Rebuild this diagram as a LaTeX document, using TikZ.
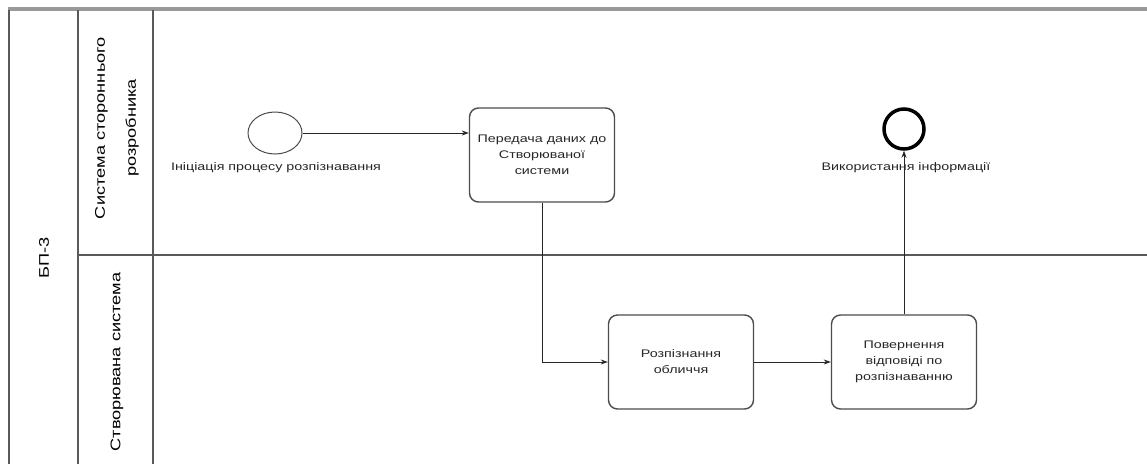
\documentclass[tikz,border=0pt]{standalone}
\usepackage{fontspec}
\setmainfont{Liberation Sans}
\newfontfamily\widesans[FakeStretch=1.3]{Liberation Sans}
\usetikzlibrary{arrows.meta,shapes.geometric}
\begin{document}
\begin{tikzpicture}[x=1pt,y=-1pt,
  poolline/.style={draw=black!65,line width=1.3pt},
  task/.style={draw=black!70,line width=1.4pt,rounded corners=9pt,
    minimum width=145pt,minimum height=94pt,align=center,
    font=\widesans\fontsize{11}{16}\selectfont,text=black!85,inner sep=2pt},
  startev/.style={draw=black!70,line width=1pt,ellipse,minimum width=54pt,minimum height=42pt,inner sep=0pt},
  endev/.style={draw=black,line width=3.5pt,circle,minimum size=40pt,inner sep=0pt},
  evlabel/.style={font=\widesans\fontsize{11}{12}\selectfont,text=black!85,inner sep=0pt},
  lanelabel/.style={rotate=90,align=center,font=\widesans\fontsize{14}{31}\selectfont,inner sep=0pt},
  flow/.style={draw=black!85,line width=0.8pt,-{Stealth[length=7pt,width=5pt]}}
]
\useasboundingbox (0,0) rectangle (1147,464);
% pool and lanes
\draw[draw=black!40,line width=4pt] (8,9) -- (1147,9);
\draw[poolline] (9,10) -- (9,464);
\draw[poolline] (78,10) -- (78,464);
\draw[poolline] (153,10) -- (153,464);
\draw[poolline] (78,255) -- (1147,255);
\node[lanelabel] (pool) at (44,258) {БП-3};
\node[lanelabel] (lane1) at (117,128) {Система стороннього\\розробника};
\node[lanelabel] (lane2) at (117,362) {Створювана система};
% events and tasks
\node[startev] (start) at (275,133) {};
\node[evlabel] (startlbl) at (276,168) {Ініціація процесу розпізнавання};
\node[task] (t1) at (542,155) {Передача даних до\\Створюваної\\системи};
\node[task] (t2) at (681,362) {Розпізнання\\обличчя};
\node[task] (t3) at (904,362) {Повернення\\відповіді по\\розпізнаванню};
\node[endev] (end) at (904,129) {};
\node[evlabel] (endlbl) at (906,168) {Використання інформації};
% sequence flows
\draw[flow] (start.east) -- (start.east -| t1.west);
\draw[flow] (t1.south) |- (t2.west);
\draw[flow] (t2.east) -- (t3.west);
\draw[flow] (t3.north) -- (end.south);
\end{tikzpicture}
\end{document}
